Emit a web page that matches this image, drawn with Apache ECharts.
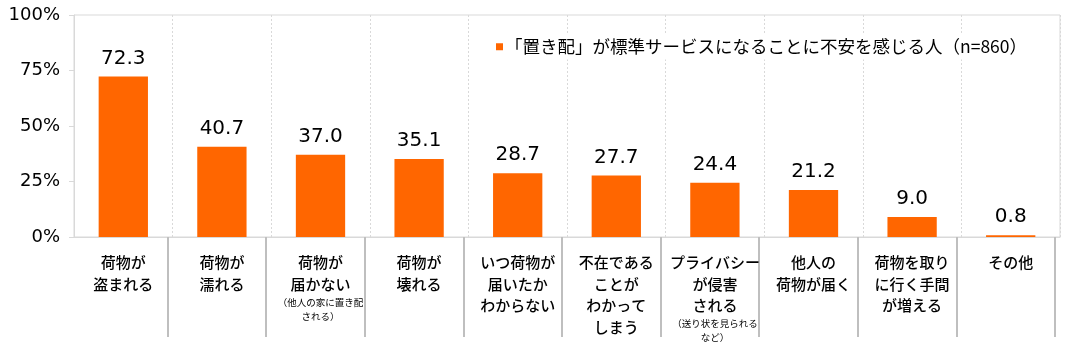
<!DOCTYPE html>
<html>
<head>
<meta charset="utf-8">
<script src="https://cdn.jsdelivr.net/npm/echarts@6/dist/echarts.min.js"></script>
<style>
html,body{margin:0;padding:0;background:#fff;}
#chart{width:1065px;height:347px;}
</style>
</head>
<body>
<div id="chart"></div>
<script>
const categories = [
  '荷物が\n盗まれる',
  '荷物が\n濡れる',
  '荷物が\n届かない',
  '荷物が\n壊れる',
  'いつ荷物が\n届いたか\nわからない',
  '不在である\nことが\nわかって\nしまう',
  'プライバシー\nが侵害\nされる',
  '他人の\n荷物が届く',
  '荷物を取り\nに行く手間\nが増える',
  'その他'
];
const notes = ['', '', '（他人の家に置き配\nされる）', '', '', '', '（送り状を見られる\nなど）', '', '', ''];
const values = [72.3, 40.7, 37.0, 35.1, 28.7, 27.7, 24.4, 21.2, 9.0, 0.8];
const seriesName = '「置き配」が標準サービスになることに不安を感じる人（n=860）';
const yTicks = [0, 25, 50, 75, 100];

const numFont = 'DejaVu Sans';
const jpFont = 'Noto Sans CJK JP';

const chart = echarts.init(document.getElementById('chart'));
chart.setOption({
  animation: false,
  backgroundColor: '#fff',
  grid: [
    {left: 74, right: 5, top: 15, bottom: 110, show: true, borderColor: '#d9d9d9', borderWidth: 1},
    {left: 69, right: 10, top: 15, bottom: 110, show: false}
  ],
  legend: {
    data: [seriesName],
    left: 491, top: 34,
    padding: [4, 6, 4, 5],
    backgroundColor: '#fff',
    icon: 'rect', itemWidth: 7, itemHeight: 7, itemGap: 0,
    textStyle: {fontFamily: jpFont, fontSize: 17.5, color: '#000', padding: [0, 0, 0, -3]},
    z: 10
  },
  xAxis: [
    {
      type: 'category', gridIndex: 0, data: categories,
      axisLine: {show: true, lineStyle: {color: '#d9d9d9', width: 1}},
      axisTick: {show: false},
      splitLine: {show: true, lineStyle: {color: '#d9d9d9', type: [2, 2], width: 1}},
      axisLabel: {
        interval: 0, hideOverlap: false, margin: 15, color: '#000',
        formatter: function (value, idx) {
          const main = value.split('\n').map(l => '{m|' + l + '}');
          const n = notes[idx] ? notes[idx].split('\n').map(l => '{s|' + l + '}') : [];
          return main.concat(n).join('\n');
        },
        rich: {
          m: {fontFamily: jpFont, fontSize: 15, fontWeight: 500, lineHeight: 21.5, color: '#000'},
          s: {fontFamily: jpFont, fontSize: 9.5, lineHeight: 14, color: '#000'}
        }
      }
    },
    {
      type: 'category', gridIndex: 1, data: categories, position: 'bottom', offset: 11,
      axisLine: {show: false},
      axisLabel: {show: false},
      splitLine: {show: false},
      axisTick: {
        show: true, length: 100,
        interval: function (idx) { return idx !== 0; },
        lineStyle: {color: '#bfbfbf', width: 2}
      }
    }
  ],
  yAxis: [
    {
      type: 'value', gridIndex: 0, min: 0, max: 100, interval: 25,
      axisLine: {show: true, lineStyle: {color: '#d9d9d9'}},
      axisTick: {show: true, length: 5, lineStyle: {color: '#d9d9d9'}},
      splitLine: {show: false},
      axisLabel: {
        margin: 14, fontFamily: numFont, fontSize: 18, color: '#000',
        formatter: function (v) { return yTicks.indexOf(v) >= 0 ? v + '%' : ''; }
      }
    },
    {type: 'value', gridIndex: 1, min: 0, max: 100, show: false}
  ],
  series: [{
    name: seriesName,
    type: 'bar',
    xAxisIndex: 0, yAxisIndex: 0,
    data: values,
    barWidth: '50%',
    itemStyle: {color: '#FF6600'},
    label: {
      show: true, position: 'top', distance: 8,
      fontFamily: numFont, fontSize: 20, color: '#000',
      formatter: function (p) { return p.value.toFixed(1); }
    }
  }]
});
</script>
</body>
</html>
